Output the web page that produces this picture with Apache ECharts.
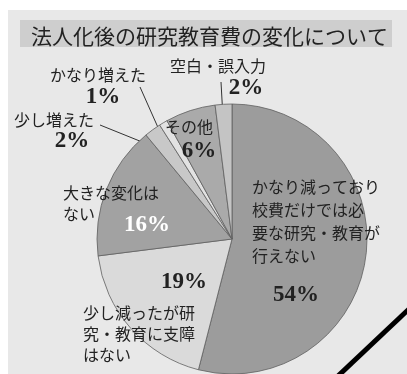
<!DOCTYPE html>
<html><head><meta charset="utf-8">
<script src="https://cdn.jsdelivr.net/npm/echarts@6/dist/echarts.min.js"></script>
<style>html,body{margin:0;padding:0;background:#fff}#c{width:407px;height:374px}</style>
</head><body><div id="c"></div>
<script>
// ---- data ----
const titleText = '法人化後の研究教育費の変化について';
const categories = [
  'かなり減っており\n校費だけでは必\n要な研究・教育が\n行えない',
  '少し減ったが研\n究・教育に支障\nはない',
  '大きな変化は\nない',
  '少し増えた',
  'かなり増えた',
  'その他',
  '空白・誤入力'
];
const values = [54, 19, 16, 2, 1, 6, 2];

// ---- style / layout (not data) ----
const colors = ['#9c9c9c', '#dadada', '#a2a2a2', '#c8c8c8', '#e2e2e2', '#aaaaaa', '#c4c4c4'];
const namePos = [
  {x: 252, y: 175, align: 'left', verticalAlign: 'top', lh: 23},
  {x: 83, y: 302, align: 'left', verticalAlign: 'top', lh: 21},
  {x: 63, y: 182, align: 'left', verticalAlign: 'top', lh: 21},
  {x: 14, y: 120, align: 'left', verticalAlign: 'middle', lh: 20},
  {x: 50, y: 75, align: 'left', verticalAlign: 'middle', lh: 20},
  {x: 165, y: 127, align: 'left', verticalAlign: 'middle', lh: 20},
  {x: 170, y: 66, align: 'left', verticalAlign: 'middle', lh: 20}
];
const leaderLines = {
  3: [[100, 125], [162, 150]],
  4: [[140, 87], [160, 132]],
  6: [[221, 82], [223, 118]]
};
const pctPos = [[296, 295], [184, 282], [147, 225], [72, 141], [103, 97], [199, 151], [246, 88]];
const pctColor = ['#222222', '#222222', '#ffffff', '#222222', '#222222', '#222222', '#222222'];

const chart = echarts.init(document.getElementById('c'));
const sansFont = '"Noto Sans CJK JP", "Noto Sans", sans-serif';
const serifFont = '"Liberation Serif", "DejaVu Serif", serif';

const nameData = categories.map((n, i) => ({
  name: n, value: values[i],
  itemStyle: {color: colors[i]},
  label: {lineHeight: namePos[i].lh},
  labelLine: {show: !!leaderLines[i]}
}));
const pctData = categories.map((n, i) => ({
  name: n, value: values[i],
  label: {color: pctColor[i]}
}));

chart.setOption({
  animation: false,
  backgroundColor: '#ffffff',
  title: {
    text: titleText, left: 26, top: 21,
    textStyle: {fontFamily: sansFont, fontSize: 21, fontWeight: 'normal', color: '#222'}
  },
  graphic: [
    {type: 'rect', z: -10, shape: {x: 8, y: 10, width: 399, height: 364}, style: {fill: '#e8e8e8'}},
    {type: 'rect', z: -9, shape: {x: 20, y: 20, width: 372, height: 27}, style: {fill: '#cecece'}},
    {type: 'line', z: 100, shape: {x1: 338, y1: 376, x2: 409, y2: 309}, style: {stroke: '#000', lineWidth: 5}}
  ],
  series: [
    {
      type: 'pie',
      center: [232, 239],
      radius: 135,
      startAngle: 90,
      clockwise: true,
      avoidLabelOverlap: false,
      data: nameData,
      itemStyle: {borderColor: '#606060', borderWidth: 0.8},
      label: {
        show: true, position: 'outside',
        formatter: p => p.name,
        fontFamily: sansFont, fontSize: 16, color: '#222'
      },
      labelLine: {lineStyle: {color: '#333', width: 1}},
      labelLayout: p => {
        const np = namePos[p.dataIndex];
        const o = {x: np.x, y: np.y, align: np.align, verticalAlign: np.verticalAlign};
        if (leaderLines[p.dataIndex]) o.labelLinePoints = leaderLines[p.dataIndex];
        return o;
      }
    },
    {
      type: 'pie',
      center: [232, 239],
      radius: 135,
      startAngle: 90,
      clockwise: true,
      silent: true,
      avoidLabelOverlap: false,
      data: pctData,
      itemStyle: {color: 'rgba(0,0,0,0)', borderWidth: 0},
      label: {
        show: true, position: 'inside',
        formatter: p => p.value + '%',
        fontFamily: serifFont, fontSize: 23, fontWeight: 'bold'
      },
      labelLine: {show: false},
      labelLayout: p => ({x: pctPos[p.dataIndex][0], y: pctPos[p.dataIndex][1], align: 'center', verticalAlign: 'middle'})
    }
  ]
});
</script>
</body></html>
